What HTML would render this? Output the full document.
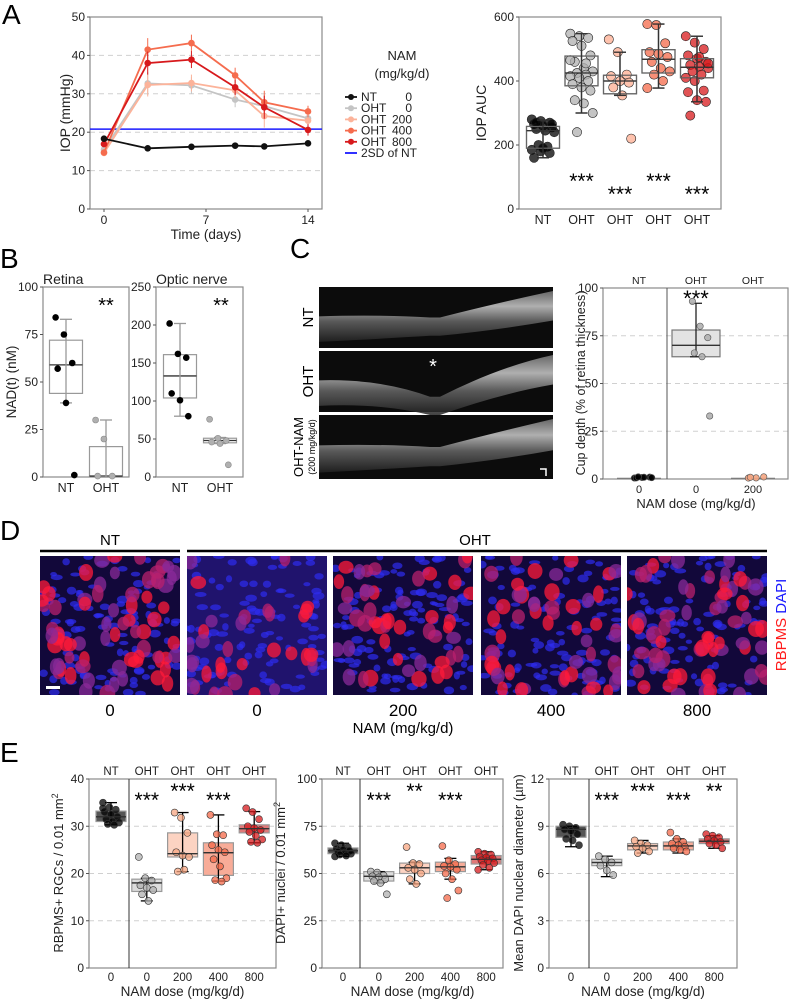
<!DOCTYPE html>
<html><head><meta charset="utf-8"><style>
html,body{margin:0;padding:0;background:#fff}
svg{display:block;font-family:"Liberation Sans",sans-serif}
</style></head><body>
<svg id="fig" width="789" height="1000" viewBox="0 0 789 1000" xmlns="http://www.w3.org/2000/svg">
<defs>
<linearGradient id="octg" x1="0" y1="0" x2="0" y2="1"><stop offset="0" stop-color="#777"/><stop offset="0.3" stop-color="#ccc"/><stop offset="0.6" stop-color="#666"/><stop offset="1" stop-color="#222"/></linearGradient>
</defs>
<g id="root"></g>
</svg>
<script>
// ---------- DATA ----------
const aDays=[0,3,6,9,11,14];
const aNT=[18.3,15.8,16.2,16.5,16.3,17.1];
const aOHT0=[15.5,32.7,32.2,28.5,26.8,23.6];
const aOHT200=[14.6,32.3,32.8,30.9,24.2,23.0];
const aOHT400=[14.7,41.5,43.2,34.8,27.8,25.4];
const aOHT800=[16.9,38.0,38.9,31.7,26.5,20.6];
const aErr=[0.6,3,2.2,2,3,1.5];
const a2SD=20.8;
const aTicksY=[0,10,20,30,40,50];
const aTicksX=[0,7,14];

const aucCats=["NT","OHT","OHT","OHT","OHT"];
const aucStats=[[160,190,245,258,278],[300,385,425,478,548],[355,360,400,418,490],[378,425,468,498,578],[335,410,443,470,540]];
const aucPts=[[280,275,270,265,260,255,250,245,240,200,195,185,180,175,160,190,265,270],
[548,540,535,525,510,480,460,440,430,425,420,415,410,400,390,380,370,340,330,300,240,455,465],
[530,490,420,415,400,395,380,355,220],
[578,575,518,490,485,475,460,440,430,420,400,378],
[540,520,500,480,470,460,450,445,440,430,420,410,400,370,365,340,335,292,475,455]];
const aucStars=["","***","***","***","***"];
const aucTicks=[0,200,400,600];

const retStats=[[39,44,59,72,83],[0,0,0.5,16,30]];
const retPts=[[84,75,60,57,39,1],[30,20,0.5,0.5]];
const onStats=[[80,104,133,161,202],[44,45,48,51,52]];
const onPts=[[202,162,157,110,101,80],[76,51,48,46,44,16]];

const cupCats=["NT","OHT","OHT"];
const cupDoses=["0","0","200"];
const cupStats=[[0.3,0.4,0.6,0.9,1],[64,64,70,78,92]];
const cupPts=[[0.5,0.8,1,0.6,0.9,0.7,1.1],[93,80,74,66,64,33],[0.5,0.6,1.1,0.9]];

const eDoses=["0","0","200","400","800"];
const eTop=["NT","OHT","OHT","OHT","OHT"];
const rgcStats=[[30.3,31,32,33.2,35],[14.2,16.2,18,18.8,19],[20.4,23.5,24.2,28.6,32.9],[18.4,19.6,24.4,26.5,32.4],[26.5,28.6,29.5,30.3,33.1]];
const rgcPts=[[35,34,33.5,33,32.5,32,31.5,31,30.8,30.5,30.3,33.8],[23.5,19,18.5,17.5,17,16.5,15.6,14.2],[32.9,31.8,28.6,24.5,23.8,23.5,20.4,20.8],[32.4,28.3,28.1,26,25,24.5,23,21.5,19,18.6,18.3],[33.8,33,31.5,30,29.6,29.2,28.8,28,27.2,26.7,26.5]];
const rgcStars=["","***","***","***",""];
const dapiStats=[[59,60.5,62,63.5,66],[45,46,48.5,51,51],[44.5,50,53,55.5,56],[47,51,53.5,56,58],[52,55,57.5,59.5,61.5]];
const dapiPts=[[66,65,64,63,62.5,62,61.5,61,60.5,60,59.5,59],[51,50.5,49,48.5,48,47,46,45,39],[64,55.5,55,53,52,50,47,44.5],[64.5,57,55,54,53.5,52,50,47,41,37],[61.5,60.5,60,59,58.5,58,57,56.5,55.5,54.5,53,52]];
const dapiStars=["","***","**","***",""];
const diamStats=[[7.7,8.3,8.8,9.0,9.0],[5.8,6.5,6.7,6.9,7.1],[7.3,7.5,7.75,7.9,8.1],[7.3,7.5,7.75,8.0,8.2],[7.6,7.9,8.05,8.2,8.4]];
const diamPts=[[9.1,9.0,8.9,8.8,8.7,8.5,8.2,8.1,7.8],[7.1,6.9,6.7,6.5,6.2,5.9],[8.1,7.9,7.8,7.7,7.6,7.4,7.3],[8.6,8.2,8.0,7.9,7.8,7.7,7.6,7.5,7.4],[8.5,8.4,8.3,8.2,8.1,8.0,7.9,7.8,7.6]];
const diamStars=["","***","***","***","**"];

// ---------- helpers ----------
const NS="http://www.w3.org/2000/svg";
const root=document.getElementById('root');
function el(tag,attrs,parent,txt){const e=document.createElementNS(NS,tag);for(const k in attrs)e.setAttribute(k,attrs[k]);if(txt!==undefined)e.textContent=txt;(parent||root).appendChild(e);return e;}
function grp(name,parent){const g=el('g',{},parent);return g;}
function txt(name,x,y,s,opt,parent){opt=opt||{};const t=el('text',Object.assign({x:x,y:y,'font-size':opt.fs||11,'text-anchor':opt.a||'middle',fill:opt.fill||'#222'},opt.rot?{transform:`rotate(-90 ${x} ${y})`}:{},opt.fw?{'font-weight':opt.fw}:{}),parent,s);return t;}
function lin(d0,d1,r0,r1){return v=>r0+(v-d0)/(d1-d0)*(r1-r0);}
const jit=i=>((i*37)%11-5)*1.6;

function frame(name,x0,x1,y0,y1,ticks,yfn,grid){
  const g=grp(name);
  if(grid) ticks.forEach(t=>{if(t>ticks[0]&&t<ticks[ticks.length-1]){const l=el('line',{x1:x0,x2:x1,y1:yfn(t),y2:yfn(t),stroke:'#d0d0d0','stroke-dasharray':'5,4','stroke-width':1},g);}});
  const r=el('rect',{x:x0,y:y1,width:x1-x0,height:y0-y1,fill:'none',stroke:'#8a8a8a','stroke-width':1.2},g);
  
  ticks.forEach(t=>{el('line',{x1:x0-3,x2:x0,y1:yfn(t),y2:yfn(t),stroke:'#555'},g);txt('y-tick-label',x0-5,yfn(t)+4,String(t),{a:'end',fs:12},g);});
  return g;
}
function box(g,xc,w,st,yfn,fill,stroke,wcol){
  const b=el('rect',{x:xc-w/2,y:yfn(st[3]),width:w,height:yfn(st[1])-yfn(st[3]),fill:fill,stroke:stroke,'stroke-width':1.2},g);
  
  const m=el('line',{x1:xc-w/2,x2:xc+w/2,y1:yfn(st[2]),y2:yfn(st[2]),stroke:'#333','stroke-width':1.3},g);
  
  const wk=el('line',{x1:xc,x2:xc,y1:yfn(st[0]),y2:yfn(st[4]),stroke:wcol,'stroke-width':1.3},g);
  
  [st[0],st[4]].forEach(v=>{const c=el('line',{x1:xc-6,x2:xc+6,y1:yfn(v),y2:yfn(v),stroke:wcol,'stroke-width':1.3},g);});
}
function pts(g,xc,arr,yfn,col,r,stroke,op,spread){
  arr.forEach((v,i)=>{const c=el('circle',{cx:xc+jit(i)*(spread||1),cy:yfn(v),r:r,fill:col,stroke:stroke,'stroke-width':0.6,'fill-opacity':op},g);});
}
const grpCol=['#000','#b0b0b0','#fdae91','#f4694a','#d7191c'];

// ---------- Panel labels ----------
[['A',2,24],['B',0,268],['C',290,258],['D',0,540],['E',0,762]].forEach(p=>txt('panel-label-'+p[0].toLowerCase(),p[1],p[2],p[0],{a:'start',fs:28,fill:'#000'}));

// ---------- Panel A line chart ----------
(function(){
  const x=lin(0,14,104,308), y=lin(0,50,209,17);
  const g=frame('iop-line-chart',90,322,209,17,aTicksY,y,true);
  aTicksX.forEach(t=>{el('line',{x1:x(t),x2:x(t),y1:209,y2:212,stroke:'#555'},g);txt('x-tick-label',x(t),224,String(t),{fs:12},g);});
  txt('x-axis-title',206,239,'Time (days)',{fs:13.5},g);
  txt('y-axis-title',70,113,'IOP (mmHg)',{fs:14,rot:1},g);
  const sd=el('line',{x1:90,x2:322,y1:y(a2SD),y2:y(a2SD),stroke:'#1a1aff','stroke-width':1.5},g);
  const series=[[aOHT0,'#c4c4c4'],[aOHT200,'#fcb39a'],[aOHT400,'#f56c4e'],[aOHT800,'#d7191c'],[aNT,'#111']];
  series.forEach((s,si)=>{const sg=grp('series-'+si,g);
    s[0].forEach((v,i)=>{if(si<4&&i>0){const e=el('line',{x1:x(aDays[i]),x2:x(aDays[i]),y1:y(v-aErr[i]),y2:y(v+aErr[i]),stroke:s[1],'stroke-width':1},sg);}});
    const p=el('polyline',{points:s[0].map((v,i)=>x(aDays[i])+','+y(v)).join(' '),fill:'none',stroke:s[1],'stroke-width':1.8},sg);
    s[0].forEach((v,i)=>{const c=el('circle',{cx:x(aDays[i]),cy:y(v),r:3.3,fill:s[1]},sg);});
  });
  const lg=grp('legend');
  txt('legend-title',402,60,'NAM',{fs:13},lg);txt('legend-subtitle',402,78,'(mg/kg/d)',{fs:13},lg);
  const items=[['NT','0','#111'],['OHT','0','#c4c4c4'],['OHT','200','#fcb39a'],['OHT','400','#f56c4e'],['OHT','800','#d7191c'],['2SD of NT','','#1a1aff']];
  items.forEach((it,i)=>{const yy=97+i*11.2;const eg=grp('legend-entry',lg);
    el('line',{x1:345,x2:357,y1:yy,y2:yy,stroke:it[2],'stroke-width':1.8},eg);
    if(i<5)el('circle',{cx:351,cy:yy,r:3,fill:it[2]},eg);
    txt('legend-label',361,yy+4,it[0],{a:'start',fs:12},eg);
    if(it[1])txt('legend-dose',412,yy+4,it[1],{a:'end',fs:12},eg);});
})();

// ---------- Panel A AUC ----------
(function(){
  const y=lin(0,600,209,17);
  const g=frame('iop-auc-chart',519,721,209,17,aucTicks,y,false);
  txt('y-axis-title',486,113,'IOP AUC',{fs:14,rot:1},g);
  aucCats.forEach((c,i)=>{const xc=543+i*38.5;
    txt('x-tick-label',xc,224,c,{fs:12.5},g);
    box(g,xc,33,aucStats[i],y,'none','#666','#333');
    pts(g,xc,aucPts[i],y,grpCol[i],4.6,'#222',0.75,1.4);
    box(g,xc,33,aucStats[i],y,'none','#666','#333');
    if(aucStars[i])txt('sig-stars',xc,i%2?188:201,aucStars[i],{fs:21,fill:'#000'},g);
  });
})();

// ---------- Panel B ----------
(function(){
  const yR=lin(0,100,477,287), yO=lin(0,250,477,287);
  const g1=frame('retina-nad-chart',43,129,477,287,[0,25,50,75,100],yR,false);
  const g2=frame('optic-nerve-nad-chart',156,243,477,287,[0,50,100,150,200,250],yO,false);
  txt('chart-title',43,284,'Retina',{a:'start',fs:14},g1);txt('chart-title',156,284,'Optic nerve',{a:'start',fs:14},g2);
  txt('y-axis-title',16,382,'NAD(t) (nM)',{fs:13.5,rot:1});
  txt('sig-stars',106,312,'**',{fs:20,fill:'#000'},g1);txt('sig-stars',221,312,'**',{fs:20,fill:'#000'},g2);
  [[g1,yR,retStats,retPts,66],[g2,yO,onStats,onPts,180]].forEach(c=>{
    for(let i=0;i<2;i++){const xc=c[4]+i*40;
      txt('x-tick-label',xc,492,i?'OHT':'NT',{fs:12.5},c[0]);
      box(c[0],xc,33,c[2][i],c[1],'none','#999','#999');
      pts(c[0],xc,c[3][i],c[1],i?'#b0b0b0':'#000',3,i?'#888':'#000',1,1.3);}
  });
})();

// ---------- Panel C OCT ----------
(function(){
  const g=grp('oct-images');
  const rows=[[287,348,'NT'],[351,412,'OHT'],[415,479,'OHT-NAM']];
  rows.forEach((r,i)=>{const h=r[1]-r[0];const ig=grp('oct-image-'+r[2].toLowerCase(),g);
    el('rect',{x:319,y:r[0],width:234,height:h,fill:'#0c0c0c'},ig);
    const top=r[0]+h*0.35,dip=r[0]+h*(i==1?0.75:0.5);
    el('path',{d:`M319 ${top+8} Q 380 ${top+h*0.1} 430 ${dip} L 440 ${dip} Q 500 ${top-6} 553 ${r[0]+4} L 553 ${r[0]+h*0.55} Q 500 ${top+h*0.35} 440 ${dip+h*0.3} L 430 ${dip+h*0.3} Q 380 ${top+h*0.5} 319 ${top+h*0.55} Z`,fill:'url(#octg)',opacity:0.85},ig);
    txt('oct-row-label',i==2?303:313,(r[0]+r[1])/2,r[2],{fs:i==2?13:15,rot:1,fill:'#000'},ig);
  });
  txt('oct-star',433,373,'*',{fs:20,fill:'#fff'},g);
  txt('oct-row-sublabel',315,447,'(200 mg/kg/d)',{fs:9,rot:1,fill:'#000'},g);
  el('path',{d:'M540 469 L546 469 L546 476',stroke:'#fff','stroke-width':1.5,fill:'none'},g);
})();

// ---------- Panel C cup depth ----------
(function(){
  const y=lin(0,100,479,288);
  const g=frame('cup-depth-chart',603,788,479,288,[0,25,50,75,100],y,true);
  el('line',{x1:667,x2:667,y1:288,y2:479,stroke:'#555'},g);
  txt('y-axis-title',585,383,'Cup depth (% of retina thickness)',{fs:12.5,rot:1},g);
  txt('x-axis-title',696,508,'NAM dose (mg/kg/d)',{fs:13},g);
  cupCats.forEach((c,i)=>{const xc=639+i*57;
    txt('group-label',xc,284,c,{fs:10.5},g);txt('x-tick-label',xc,493,cupDoses[i],{fs:11},g);
    if(i==1)box(g,xc,48,cupStats[1],y,'#e3e3e3','#777','#222');
    else {const l=el('line',{x1:xc-22,x2:xc+22,y1:y(0.4),y2:y(0.4),stroke:'#777'},g);}
    pts(g,xc+(i==1?6:5),cupPts[i],y,['#000','#b0b0b0','#f4a582'][i],3.2,'#555',0.9,1.2);
  });
  txt('sig-stars',696,306,'***',{fs:22,fill:'#000'},g);
})();

// ---------- Panel D images ----------
(function(){
  const g=grp('rbpms-dapi-images');
  let seed=12345;const rnd=()=>{seed=(seed*1103515245+12345)%2147483648;return seed/2147483648;};
  const xs=[40,187,333,481,627];const W=140,y0=556,H=139;
  const nRed=[70,34,48,50,62];
  xs.forEach((x0,k)=>{const ig=grp('micrograph-'+k,g);
    el('rect',{x:x0,y:y0,width:W,height:H,fill:'#12083a'},ig);
    const cp=el('clipPath',{id:'cp'+k},ig);el('rect',{x:x0,y:y0,width:W,height:H},cp);
    const inner=el('g',{'clip-path':`url(#cp${k})`},ig);
    if(k==1)el('rect',{x:x0,y:y0,width:W,height:H,fill:'#2a1a90',opacity:0.6},inner);
    for(let i=0;i<110;i++)el('ellipse',{cx:x0+rnd()*W,cy:y0+rnd()*H,rx:3+rnd()*3,ry:2+rnd()*2,fill:'#2d2cf0',opacity:0.7},inner);
    for(let i=0;i<nRed[k];i++){const rr=rnd();el('ellipse',{cx:x0+rnd()*W,cy:y0+rnd()*H,rx:5+rnd()*3,ry:6+rnd()*3,fill:rr>0.6?'#ff1a3a':(rr>0.3?'#b8206e':'#8a2a9a'),opacity:0.75},inner);}
    txt('dose-label',x0+W/2,716,['0','0','200','400','800'][k],{fs:17,fill:'#000'});
  });
  el('rect',{x:46,y:686,width:14,height:3,fill:'#fff'},g);
  el('line',{x1:40,x2:180,y1:551,y2:551,stroke:'#000','stroke-width':2.5},g);
  el('line',{x1:187,x2:767,y1:551,y2:551,stroke:'#000','stroke-width':2.5},g);
  txt('group-label',110,545,'NT',{fs:15,fill:'#000'},g);txt('group-label',475,545,'OHT',{fs:15,fill:'#000'},g);
  txt('x-axis-title',403,733,'NAM (mg/kg/d)',{fs:15,fill:'#000'},g);
  const t=el('text',{x:786,y:625,'font-size':15,'text-anchor':'middle',transform:'rotate(-90 786 625)'},g);
  
  const s1=el('tspan',{fill:'#ff1a1a'},t,'RBPMS ');const s2=el('tspan',{fill:'#1a1aff'},t,'DAPI');
})();

// ---------- Panel E ----------
const eFills=['#555','#dcdcdc','#fcd3c2','#f8ac98','#e07878'];
const ePts=['#000','#b0b0b0','#f7a582','#f4694a','#d7191c'];
function eChart(name,x0,x1,vline,cx0,dom,ticks,stats,pointsArr,stars,title,sup){
  const y=lin(0,dom,968,779);
  const g=frame(name,x0,x1,968,779,ticks,y,true);
  el('line',{x1:vline,x2:vline,y1:779,y2:968,stroke:'#333'},g);
  eDoses.forEach((d,i)=>{const xc=cx0+i*35.8;
    txt('group-label',xc,775,eTop[i],{fs:11.5},g);txt('x-tick-label',xc,981,d,{fs:11.5},g);
    box(g,xc,30,stats[i],y,eFills[i],'#999','#000');
    pts(g,xc,pointsArr[i],y,ePts[i],3.5,'#333',0.75,1);
    const m=el('line',{x1:xc-15,x2:xc+15,y1:y(stats[i][2]),y2:y(stats[i][2]),stroke:'#333','stroke-width':1.2},g);
    if(stars[i])txt('sig-stars',xc,(i%2?807:798),stars[i],{fs:21,fill:'#000'},g);
  });
  txt('x-axis-title',(x0+x1)/2,996,'NAM dose (mg/kg/d)',{fs:13.5},g);
  const tx=x0-(ticks[ticks.length-1]>=100?34:26)+(sup===2?-3:0);
  const t=txt('y-axis-title',tx,873,title,{fs:13,rot:1},g);
  if(sup){const s=el('tspan',{dy:-5,'font-size':9},t,'2');}
}
eChart('rgc-density-chart',89,276,129,111,40,[0,10,20,30,40],rgcStats,rgcPts,rgcStars,'RBPMS+ RGCs / 0.01 mm',1);
eChart('dapi-density-chart',322,503,360,343,100,[0,25,50,75,100],dapiStats,dapiPts,dapiStars,'DAPI+ nuclei / 0.01 mm',2);
eChart('nuclear-diameter-chart',549,737,589,571,12,[0,3,6,9,12],diamStats,diamPts,diamStars,'Mean DAPI nuclear diameter (µm)',0);
</script>
</body></html>
